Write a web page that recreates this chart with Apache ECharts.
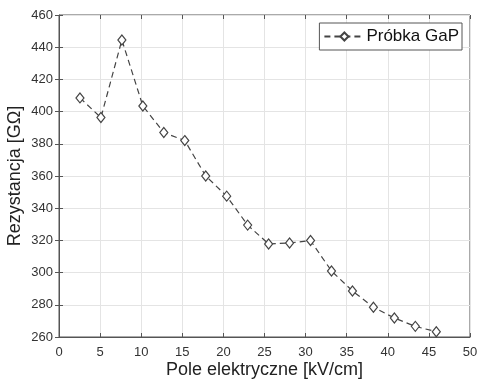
<!DOCTYPE html>
<html><head><meta charset="utf-8">
<script src="https://cdn.jsdelivr.net/npm/echarts@6/dist/echarts.min.js"></script>
<style>html,body{margin:0;padding:0;background:#fff}#c{width:479px;height:379px}</style>
</head><body><div id="c"></div>
<script>
const xValues = [2.55, 5.1, 7.65, 10.2, 12.75, 15.3, 17.85, 20.4, 22.95, 25.5, 28.05, 30.6, 33.15, 35.7, 38.25, 40.8, 43.35, 45.9];
const resistance = [408.5, 396.3, 444.5, 403.5, 387, 382, 360, 347.5, 329.5, 317.8, 318.4, 319.9, 301, 288.6, 278.5, 271.8, 266.6, 263.3];
const seriesName = 'Próbka GaP';
const xTitle = 'Pole elektryczne [kV/cm]';
const yTitle = 'Rezystancja [GΩ]';

const font = 'Liberation Sans, Arial, sans-serif';
const axisCol = '#555';
const gridCol = '#e4e4e4';
const chart = echarts.init(document.getElementById('c'));
const tickStyle = {show: true, inside: true, length: 4, lineStyle: {color: axisCol}};
chart.setOption({
  animation: false,
  grid: {left: 59, right: 9, top: 15, bottom: 42, show: true, borderColor: axisCol, borderWidth: 1,
         containLabel: false, outerBoundsMode: 'none'},
  xAxis: [{
    type: 'value', min: 0, max: 50, interval: 5,
    name: xTitle, nameLocation: 'middle', nameGap: 24, nameMoveOverlap: false,
    nameTextStyle: {fontFamily: font, fontSize: 18, color: '#222'},
    axisLine: {show: true, lineStyle: {color: axisCol}},
    axisTick: tickStyle,
    axisLabel: {fontFamily: font, fontSize: 13, color: '#333', margin: 9},
    splitLine: {show: true, lineStyle: {color: gridCol}}
  }, {
    type: 'value', min: 0, max: 50, interval: 5, position: 'top',
    axisLine: {show: false}, axisTick: tickStyle, axisLabel: {show: false}, splitLine: {show: false}
  }],
  yAxis: [{
    type: 'value', min: 260, max: 460, interval: 20,
    name: yTitle, nameLocation: 'middle', nameGap: 35, nameMoveOverlap: false,
    nameTextStyle: {fontFamily: font, fontSize: 18, color: '#222'},
    axisLine: {show: true, lineStyle: {color: axisCol}},
    axisTick: tickStyle,
    axisLabel: {fontFamily: font, fontSize: 13, color: '#333', margin: 6},
    splitLine: {show: true, lineStyle: {color: gridCol}}
  }, {
    type: 'value', min: 260, max: 460, interval: 20, position: 'right',
    axisLine: {show: false}, axisTick: tickStyle, axisLabel: {show: false}, splitLine: {show: false}
  }],
  legend: {
    right: 17, top: 23, orient: 'vertical',
    backgroundColor: '#fff', borderColor: '#555', borderWidth: 1, borderRadius: 0,
    padding: [5, 3, 5, 4], itemWidth: 40, itemHeight: 10, itemGap: 4,
    textStyle: {fontFamily: font, fontSize: 17, color: '#111', padding: [0, 0, 0, -3]},
    data: [seriesName]
  },
  series: [{
    name: seriesName, type: 'line',
    data: xValues.map((x, i) => [x, resistance[i]]),
    symbol: 'diamond', symbolSize: [8, 10],
    lineStyle: {color: '#444', width: 1.2, type: [6, 4]},
    itemStyle: {color: '#fff', borderColor: '#444', borderWidth: 1.2}
  }]
});
</script></body></html>
